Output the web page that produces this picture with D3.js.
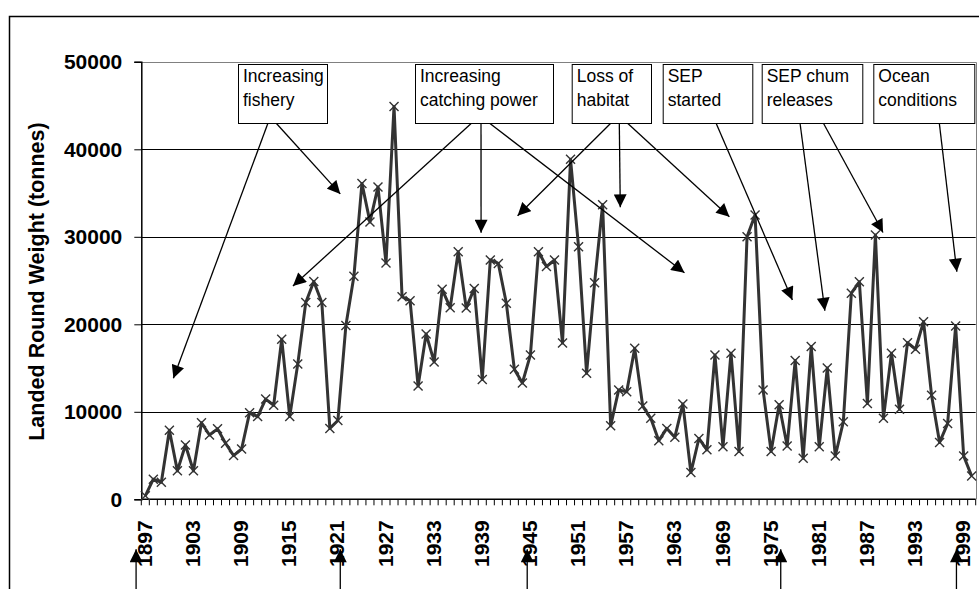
<!DOCTYPE html>
<html>
<head>
<meta charset="utf-8">
<script src="https://cdn.jsdelivr.net/npm/d3@7"></script>
<style>
  html, body { margin: 0; padding: 0; background: #fff; }
  svg { display: block; }
  text { font-family: "Liberation Sans", Arial, Helvetica, sans-serif; }
</style>
</head>
<body>
<svg id="chart" width="979" height="589"></svg>
<script>
// Annual landed catch, 1897–2000 (tonnes)
const years = d3.range(1897, 2001);
const landings = [
  400, 2300, 1950, 7900, 3250, 6200, 3250, 8750, 7350, 8050,
  6400, 5000, 5750, 9900, 9450, 11450, 10750, 18300, 9450, 15450,
  22500, 24900, 22500, 8100, 9000, 19850, 25500, 36100, 31700, 35700,
  27000, 44900, 23150, 22700, 12950, 18900, 15700, 24000, 21900, 28300,
  21850, 24100, 13700, 27350, 26950, 22400, 14850, 13300, 16500, 28300,
  26600, 27350, 17850, 38850, 28850, 14400, 24750, 33650, 8400, 12500,
  12300, 17250, 10650, 9250, 6700, 8100, 7100, 10900, 3050, 6950,
  5650, 16500, 6000, 16700, 5450, 30000, 32500, 12500, 5450, 10800,
  6100, 15850, 4700, 17450, 6000, 15000, 4950, 8850, 23550, 24850,
  10950, 30200, 9250, 16700, 10300, 17900, 17150, 20300, 11900, 6500,
  8650, 19800, 4950, 2650
];
const yTicks = [0, 10000, 20000, 30000, 40000, 50000];
const xTickYears = d3.range(1897, 2001, 6);
const yTitle = "Landed Round Weight (tonnes)";

// Explanatory callouts: text lines and the [year, tonnes] each arrow points to
const calloutText = [
  ["Increasing", "fishery"],
  ["Increasing", "catching power"],
  ["Loss of", "habitat"],
  ["SEP", "started"],
  ["SEP chum", "releases"],
  ["Ocean", "conditions"]
];
const calloutTargets = [
  [[1900.5, 13830], [1921.3, 34900]],
  [[1915.4, 24380], [1938.85, 30470], [1964.2, 25900]],
  [[1943.4, 32410], [1956.2, 33370], [1969.8, 32300]],
  [[1977.65, 22780]],
  [[1981.7, 21550], [1988.95, 30490]],
  [[1998.15, 26010]]
];
// Years marked by the upward arrows under the axis
const markedYears = [1895.85, 1921.3, 1944.6, 1976.2, 1998.1];

// ---- layout ----
const plot = { left: 141.3, right: 975.7, top: 61.8, bottom: 499.3 };
const boxes = [
  { x0: 238, x1: 327, starts: [268, 276] },
  { x0: 415, x1: 553, starts: [471.7, 481, 489.3] },
  { x0: 571.7, x1: 651, starts: [611, 619.3, 627.3] },
  { x0: 662.7, x1: 752.3, starts: [716] },
  { x0: 761.7, x1: 862.3, starts: [800, 823.3] },
  { x0: 873.3, x1: 974.3, starts: [939.3] }
];
const boxTop = 64, boxBottom = 123;
const ink = "#333";

const svg = d3.select("#chart");

// arrowhead
svg.append("defs").append("marker")
  .attr("id", "head")
  .attr("viewBox", "0 0 10 10")
  .attr("refX", 10).attr("refY", 5)
  .attr("markerUnits", "userSpaceOnUse")
  .attr("markerWidth", 14).attr("markerHeight", 13)
  .attr("orient", "auto")
  .append("path").attr("d", "M0,0 L10,5 L0,10 Z").attr("fill", "#000");

// outer chart frame
svg.append("path")
  .attr("d", "M9.5,589 V16.5 H979")
  .attr("fill", "none").attr("stroke", "#000").attr("stroke-width", 1.5);

const x = d3.scaleBand().domain(years).range([plot.left, plot.right]).paddingInner(0).paddingOuter(0);
const xc = yr => x(yr) + x.bandwidth() / 2;
const xFrac = yr => plot.left + (yr - years[0] + 0.5) * x.step();
const y = d3.scaleLinear().domain([0, 50000]).range([plot.bottom, plot.top]);

// gridlines
svg.append("g").selectAll("line")
  .data(yTicks.filter(t => t > 0 && t < 50000))
  .join("line")
  .attr("x1", plot.left).attr("x2", plot.right)
  .attr("y1", d => Math.round(y(d)) + 0.5).attr("y2", d => Math.round(y(d)) + 0.5)
  .attr("stroke", "#000").attr("stroke-width", 1);

// plot area border (top and right)
svg.append("path")
  .attr("d", `M${plot.left},${Math.round(plot.top) + 0.5} H${Math.round(plot.right) + 0.5} V${plot.bottom}`)
  .attr("fill", "none").attr("stroke", "#808080").attr("stroke-width", 1);

// y axis
const yAxis = d3.axisLeft(y).tickValues(yTicks).tickSize(7).tickPadding(12).tickFormat(d3.format("d"));
const gy = svg.append("g").attr("transform", `translate(${plot.left},0)`).call(yAxis);
gy.select(".domain").attr("stroke", "#000").attr("stroke-width", 1.5);
gy.selectAll(".tick line").attr("stroke", "#000");
gy.selectAll(".tick text")
  .attr("font-size", 21).attr("font-weight", "bold").attr("fill", "#000")
  .style("font-family", '"Liberation Sans", Arial, sans-serif');

// x axis: a tick at every category boundary, a label every sixth year
const gx = svg.append("g").attr("transform", `translate(0,${plot.bottom})`);
gx.append("line").attr("x1", plot.left).attr("x2", plot.right)
  .attr("stroke", "#000").attr("stroke-width", 1.5);
gx.selectAll("line.tk")
  .data(years.concat([years[years.length - 1] + 1]))
  .join("line").attr("class", "tk")
  .attr("x1", (d, i) => plot.left + i * x.step()).attr("x2", (d, i) => plot.left + i * x.step())
  .attr("y1", 0).attr("y2", 6)
  .attr("stroke", "#000").attr("stroke-width", 1);
gx.selectAll("text")
  .data(xTickYears)
  .join("text")
  .attr("transform", d => `translate(${xc(d) - 1},21) rotate(-90)`)
  .attr("text-anchor", "end")
  .attr("dy", "0.36em")
  .attr("font-size", 21).attr("font-weight", "bold").attr("fill", "#000")
  .text(d => d);

// y axis title
svg.append("text")
  .attr("transform", `translate(36,${(plot.top + plot.bottom) / 2 + 1}) rotate(-90)`)
  .attr("text-anchor", "middle").attr("dy", "0.36em")
  .attr("font-size", 21.5).attr("font-weight", "bold").attr("fill", "#000")
  .text(yTitle);

// series line
const line = d3.line().x((d, i) => xc(years[i])).y(d => y(d));
svg.append("path")
  .datum(landings)
  .attr("d", line)
  .attr("fill", "none").attr("stroke", ink).attr("stroke-width", 3)
  .attr("stroke-linejoin", "round");

// x-shaped markers
const m = 4.5;
svg.append("g").selectAll("path")
  .data(landings)
  .join("path")
  .attr("d", (d, i) => {
    const cx = xc(years[i]), cy = y(d);
    return `M${cx - m},${cy - m}L${cx + m},${cy + m}M${cx - m},${cy + m}L${cx + m},${cy - m}`;
  })
  .attr("stroke", ink).attr("stroke-width", 1.4).attr("fill", "none");

// callout arrows
const arrows = svg.append("g");
boxes.forEach((b, i) => {
  calloutTargets[i].forEach((t, j) => {
    arrows.append("line")
      .attr("x1", b.starts[j]).attr("y1", boxBottom)
      .attr("x2", xFrac(t[0])).attr("y2", y(t[1]))
      .attr("stroke", "#000").attr("stroke-width", 1.3)
      .attr("marker-end", "url(#head)");
  });
});

// callout boxes
const gb = svg.append("g").selectAll("g").data(boxes).join("g");
gb.append("rect")
  .attr("x", d => d.x0 + 0.5).attr("y", boxTop + 0.5)
  .attr("width", d => d.x1 - d.x0).attr("height", boxBottom - boxTop)
  .attr("fill", "#fff").attr("stroke", "#000").attr("stroke-width", 1);
gb.each(function (d, i) {
  const t = d3.select(this).append("text")
    .attr("font-size", 17.5).attr("fill", "#000");
  calloutText[i].forEach((s, k) => {
    t.append("tspan").attr("x", d.x0 + 5).attr("y", 82 + k * 23.5).text(s);
  });
});

// upward arrows beneath the year labels
svg.append("g").selectAll("line")
  .data(markedYears)
  .join("line")
  .attr("x1", d => xFrac(d)).attr("x2", d => xFrac(d))
  .attr("y1", 595).attr("y2", plot.bottom + 50)
  .attr("stroke", "#000").attr("stroke-width", 1.3)
  .attr("marker-end", "url(#head)");
</script>
</body>
</html>
